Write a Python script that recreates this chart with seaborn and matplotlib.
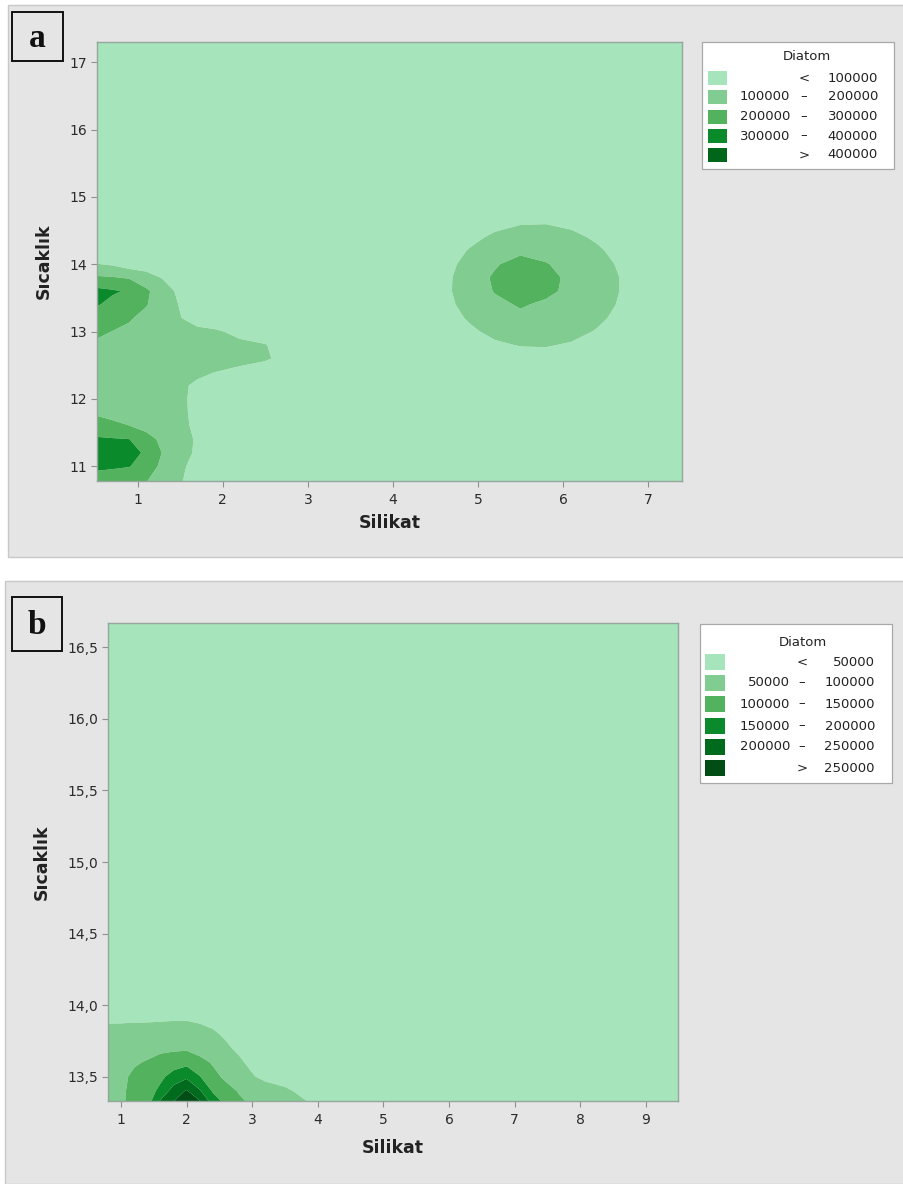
import numpy as np
import matplotlib
matplotlib.use("Agg")
import matplotlib.pyplot as plt
from matplotlib.patches import Rectangle
from matplotlib.ticker import FixedLocator, FixedFormatter
import seaborn as sns

# ---------------------------------------------------------------------------
# Diatom abundance (thousand cells) on a Silikat x Sıcaklık grid
# ---------------------------------------------------------------------------
# Panel a
silikat_a = [0.50, 0.70, 0.90, 1.10, 1.30, 1.50, 1.70, 1.90, 2.20, 2.50, 2.80,
             3.20, 4.60, 4.90, 5.20, 5.50, 5.80, 6.10, 6.40, 6.70, 7.00, 7.45]
sicaklik_a = [10.75, 11.0, 11.2, 11.4, 11.6, 11.8, 12.0, 12.2, 12.4, 12.6, 12.8,
              13.0, 13.2, 13.4, 13.6, 13.8, 14.0, 14.2, 14.4, 14.6, 14.8, 17.35]
diatom_a_k = [
    [225, 217, 209, 199, 152, 105, 64, 50, 50, 50, 50, 50, 50, 50, 50, 50, 50, 50, 50, 50, 50, 50],
    [330, 318, 305, 248, 176, 115, 72, 50, 50, 50, 50, 50, 50, 50, 50, 50, 50, 50, 50, 50, 50, 50],
    [360, 340, 318, 292, 191, 134, 86, 50, 50, 50, 50, 50, 50, 50, 50, 50, 50, 50, 50, 50, 50, 50],
    [315, 308, 301, 233, 177, 132, 90, 50, 50, 50, 50, 50, 50, 50, 50, 50, 50, 50, 50, 50, 50, 50],
    [235, 218, 201, 171, 143, 114, 88, 50, 50, 50, 50, 50, 50, 50, 50, 50, 50, 50, 50, 50, 50, 50],
    [190, 175, 158, 142, 125, 108, 90, 50, 50, 50, 50, 50, 50, 50, 50, 50, 50, 50, 50, 50, 50, 50],
    [170, 158, 146, 133, 120, 107, 90, 50, 50, 50, 50, 50, 50, 50, 50, 50, 50, 50, 50, 50, 50, 50],
    [165, 155, 143, 131, 119, 108, 92, 50, 50, 50, 50, 50, 50, 50, 50, 50, 50, 50, 50, 50, 50, 50],
    [165, 157, 147, 138, 129, 120, 110, 101, 85, 50, 50, 50, 50, 50, 50, 50, 50, 50, 50, 50, 50, 50],
    [170, 164, 157, 151, 144, 137, 130, 124, 120, 112, 60, 50, 50, 50, 54, 68, 69, 58, 50, 50, 50, 50],
    [190, 182, 173, 164, 155, 147, 138, 129, 116, 104, 50, 50, 50, 59, 88, 104, 106, 92, 66, 50, 50, 50],
    [215, 199, 184, 169, 155, 140, 126, 111, 81, 50, 50, 50, 50, 86, 120, 141, 143, 125, 94, 55, 50, 50],
    [250, 230, 208, 176, 140, 104, 55, 50, 50, 50, 50, 50, 65, 109, 149, 176, 179, 156, 118, 74, 50, 50],
    [310, 277, 241, 205, 150, 93, 50, 50, 50, 50, 50, 50, 78, 126, 173, 211, 180, 170, 136, 87, 50, 50],
    [330, 311, 290, 217, 142, 77, 50, 50, 50, 50, 50, 50, 84, 135, 207, 280, 228, 170, 145, 94, 50, 50],
    [215, 207, 192, 141, 92, 50, 50, 50, 50, 50, 50, 50, 83, 134, 218, 280, 242, 170, 144, 94, 50, 50],
    [105, 89, 50, 50, 50, 50, 50, 50, 50, 50, 50, 50, 75, 124, 187, 251, 205, 170, 133, 85, 50, 50],
    [50, 50, 50, 50, 50, 50, 50, 50, 50, 50, 50, 50, 61, 105, 144, 172, 172, 150, 113, 70, 50, 50],
    [50, 50, 50, 50, 50, 50, 50, 50, 50, 50, 50, 50, 50, 81, 113, 133, 135, 119, 88, 50, 50, 50],
    [50, 50, 50, 50, 50, 50, 50, 50, 50, 50, 50, 50, 50, 54, 81, 97, 99, 85, 60, 50, 50, 50],
    [50, 50, 50, 50, 50, 50, 50, 50, 50, 50, 50, 50, 50, 50, 50, 61, 62, 51, 50, 50, 50, 50],
    [50, 50, 50, 50, 50, 50, 50, 50, 50, 50, 50, 50, 50, 50, 50, 50, 50, 50, 50, 50, 50, 50],
]
levels_a = [100000, 200000, 300000, 400000]
xticks_a = [1, 2, 3, 4, 5, 6, 7]
yticks_a = [11, 12, 13, 14, 15, 16, 17]

# Panel b
silikat_b = [0.8, 1.0, 1.2, 1.4, 1.6, 1.8, 2.0, 2.2, 2.4, 2.6, 2.8, 3.0, 3.2, 3.5, 3.8, 4.1, 9.5]
sicaklik_b = [13.33, 13.4, 13.5, 13.6, 13.7, 13.8, 13.9, 14.0, 16.7]
diatom_b_k = [
    [70, 93, 115, 125, 205, 248, 285, 252, 175, 134, 107, 92, 82, 67, 52, 30, 30],
    [75, 93, 112, 132, 160, 224, 255, 205, 144, 117, 96, 85, 74, 58, 38, 30, 30],
    [80, 92, 107, 124, 141, 166, 190, 152, 114, 90, 72, 54, 38, 30, 30, 30, 30],
    [85, 90, 96, 103, 117, 130, 135, 115, 95, 76, 57, 39, 30, 30, 30, 30, 30],
    [82, 84, 85, 87, 89, 90, 92, 80, 68, 56, 42, 30, 30, 30, 30, 30, 30],
    [62, 63, 64, 65, 66, 67, 68, 62, 55, 44, 30, 30, 30, 30, 30, 30, 30],
    [45, 45, 46, 46, 47, 48, 48, 45, 40, 35, 30, 30, 30, 30, 30, 30, 30],
    [30, 30, 30, 30, 30, 30, 30, 30, 30, 30, 30, 30, 30, 30, 30, 30, 30],
    [30, 30, 30, 30, 30, 30, 30, 30, 30, 30, 30, 30, 30, 30, 30, 30, 30],
]
levels_b = [50000, 100000, 150000, 200000, 250000]
xticks_b = [1, 2, 3, 4, 5, 6, 7, 8, 9]
yticks_b = [13.5, 14.0, 14.5, 15.0, 15.5, 16.0, 16.5]

# ---------------------------------------------------------------------------
sns.set_theme(style="white")
plt.rcParams["font.family"] = ["DejaVu Sans"]

greens_a = sns.color_palette(["#a6e5bc", "#81cc90", "#52b25e", "#0b8a2c", "#00661a"])
greens_b = sns.color_palette(["#a6e5bc", "#81cc90", "#52b25e", "#0b8a2c", "#006b1c", "#004d15"])

W, H = 904, 1184
fig = plt.figure(figsize=(W / 100, H / 100), dpi=100, facecolor="white")


def fx(px):
    return px / W


def fy(py):
    return 1 - py / H


PANEL_GREY = "#e5e5e5"
# panel backgrounds (drawn beneath the axes)
fig.patches.append(Rectangle((fx(8), fy(557)), fx(896), (557 - 5) / H,
                             transform=fig.transFigure, facecolor=PANEL_GREY,
                             edgecolor="#c8c8c8", lw=1, zorder=-10))
fig.patches.append(Rectangle((fx(5), fy(1184)), fx(899), (1184 - 581) / H,
                             transform=fig.transFigure, facecolor=PANEL_GREY,
                             edgecolor="#c8c8c8", lw=1, zorder=-10))


def draw_panel(rect, x, y, zk, levels, colors, xlim, ylim, xticks, yticks,
               yfmt, xlab_pos, ylab_pos):
    left, top, right, bottom = rect
    ax = fig.add_axes([fx(left), fy(bottom), (right - left) / W, (bottom - top) / H])
    ax.set_zorder(1)
    z = np.asarray(zk, dtype=float) * 1000
    bounds = [-1e12] + list(levels) + [1e12]
    ax.contourf(x, y, z, levels=bounds, colors=colors, antialiased=True)
    ax.set_xlim(*xlim)
    ax.set_ylim(*ylim)
    ax.xaxis.set_major_locator(FixedLocator(xticks))
    ax.yaxis.set_major_locator(FixedLocator(yticks))
    ax.yaxis.set_major_formatter(FixedFormatter([yfmt(v) for v in yticks]))
    ax.tick_params(axis="both", direction="out", length=4, width=0.8,
                   color="#8f8f8f", labelcolor="#2b2b2b", labelsize=10,
                   bottom=True, left=True)
    ax.tick_params(axis="x", pad=5)
    ax.tick_params(axis="y", pad=3)
    for s in ax.spines.values():
        s.set_color("#95a79b")
        s.set_linewidth(1.0)
    ax.set_xlabel("Silikat", fontsize=12.5, fontweight="bold", color="#222222")
    ax.set_ylabel("Sıcaklık", fontsize=12.5, fontweight="bold", color="#222222")
    ax.xaxis.set_label_coords(0.5, xlab_pos)
    ax.yaxis.set_label_coords(ylab_pos, 0.5)
    ax.xaxis.label.set_va("center")
    ax.yaxis.label.set_va("center")
    return ax


def draw_legend(box, title_xy, rows_y, patch_x, patch_h, levels, colors,
                left_end, sym_x, right_end):
    x0, y0, x1, y1 = box
    fig.patches.append(Rectangle((fx(x0), fy(y1)), (x1 - x0) / W, (y1 - y0) / H,
                                 transform=fig.transFigure, facecolor="white",
                                 edgecolor="#a8a8a8", lw=0.9, zorder=2))
    fig.text(fx(title_xy[0]), fy(title_xy[1]), "Diatom", ha="center", va="center",
             fontsize=9.5, color="#222222", zorder=3)
    n = len(levels) + 1
    for i in range(n):
        yc = rows_y[i]
        fig.patches.append(Rectangle((fx(patch_x[0]), fy(yc + patch_h / 2)),
                                     (patch_x[1] - patch_x[0]) / W, patch_h / H,
                                     transform=fig.transFigure, facecolor=colors[i],
                                     edgecolor="none", zorder=3))
        if i == 0:
            lo, sym, hi = "", "<", str(levels[0])
        elif i == n - 1:
            lo, sym, hi = "", ">", str(levels[-1])
        else:
            lo, sym, hi = str(levels[i - 1]), "–", str(levels[i])
        kw = dict(va="center", fontsize=9.5, color="#222222", zorder=4)
        if lo:
            fig.text(fx(left_end), fy(yc), lo, ha="right", **kw)
        fig.text(fx(sym_x), fy(yc), sym, ha="center", **kw)
        fig.text(fx(right_end), fy(yc), hi, ha="right", **kw)


def panel_tag(box, letter):
    x0, y0, x1, y1 = box
    fig.patches.append(Rectangle((fx(x0), fy(y1)), (x1 - x0) / W, (y1 - y0) / H,
                                 transform=fig.transFigure, facecolor="none",
                                 edgecolor="#111111", lw=1.4, zorder=3))
    fig.text(fx((x0 + x1) / 2), fy((y0 + y1) / 2 + 2), letter, ha="center",
             va="center", fontsize=24, fontweight="bold",
             family="Liberation Serif", color="#111111", zorder=4)


# ---- panel a ----
draw_panel((97, 42, 682, 481), silikat_a, sicaklik_a, diatom_a_k, levels_a, greens_a,
           (0.52, 7.40), (10.78, 17.30), xticks_a, yticks_a,
           lambda v: f"{v:g}", -0.0957, -0.0906)
draw_legend((702, 42, 894, 169), (807, 57), [78, 97, 117, 136, 155], (708, 727), 14,
            levels_a, greens_a, 790, 804, 878)
panel_tag((12, 12, 63, 61), "a")

# ---- panel b ----
draw_panel((108, 623, 678, 1101), silikat_b, sicaklik_b, diatom_b_k, levels_b, greens_b,
           (0.80, 9.49), (13.33, 16.67), xticks_b, yticks_b,
           lambda v: f"{v:.1f}".replace(".", ","), -0.0983, -0.1158)
draw_legend((700, 624, 892, 783), (803, 642), [662, 683, 704, 726, 747, 768], (705, 725), 16,
            levels_b, greens_b, 790, 802, 875)
panel_tag((12, 597, 62, 651), "b")

fig.savefig("out.png", dpi=100, facecolor="white")
